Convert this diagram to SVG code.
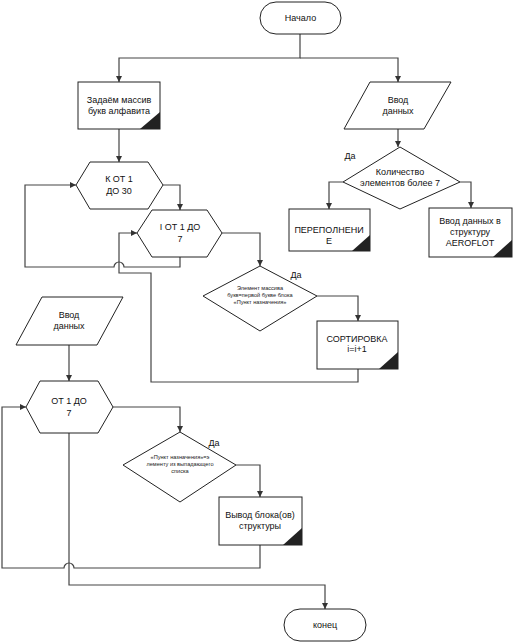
<svg xmlns="http://www.w3.org/2000/svg" width="514" height="644" viewBox="0 0 514 644">
<defs>
<marker id="ar" viewBox="0 0 10 10" refX="10" refY="5" markerWidth="6" markerHeight="6" orient="auto" markerUnits="userSpaceOnUse">
<path d="M0,0 L10,5 L0,10 z" fill="#333"/>
</marker>
<style>
.s{fill:#fff;stroke:#222;stroke-width:1}
.c{fill:none;stroke:#444;stroke-width:1.2}
.t{font-family:"Liberation Sans",Arial,sans-serif;font-size:9px;fill:#111;text-anchor:middle}
.sm{font-family:"Liberation Sans",Arial,sans-serif;font-size:5.6px;fill:#222;text-anchor:middle}
.tri{fill:#222}
</style>
</defs>
<rect width="514" height="644" fill="#fff"/>

<g id="connectors">
<path class="c" d="M300,34 V58 H119 V82" marker-end="url(#ar)"/>
<path class="c" d="M300,58 H398 V82" marker-end="url(#ar)"/>
<path class="c" d="M119,129 V162" marker-end="url(#ar)"/>
<path class="c" d="M398,129 V147" marker-end="url(#ar)"/>
<path class="c" d="M343,182 H329 V209" marker-end="url(#ar)"/>
<path class="c" d="M460,182 H471 V208" marker-end="url(#ar)"/>
<path class="c" d="M163,185 H180 V210" marker-end="url(#ar)"/>
<path class="c" d="M222,233 H260 V266" marker-end="url(#ar)"/>
<path class="c" d="M180,257 V267 H124 A5,5 0 0 0 114,267 H25 V185 H76" marker-end="url(#ar)"/>
<path class="c" d="M317,296 H358 V321" marker-end="url(#ar)"/>
<path class="c" d="M358,369 V382 H151 V273 H119 V233 H137" marker-end="url(#ar)"/>
<path class="c" d="M69,345 V381" marker-end="url(#ar)"/>
<path class="c" d="M113,407 H180 V432" marker-end="url(#ar)"/>
<path class="c" d="M236,465 H260 V497" marker-end="url(#ar)"/>
<path class="c" d="M260,545 V568 H74 A5,5 0 0 0 64,568 H2 V407 H26" marker-end="url(#ar)"/>
<path class="c" d="M69,433 V585 H325 V609" marker-end="url(#ar)"/>
</g>

<g id="start">
<rect class="s" x="260" y="2" width="81" height="32" rx="16"/>
<text class="t" x="300.5" y="21">Начало</text>
</g>

<g id="alphabet">
<rect class="s" x="78" y="82" width="82" height="47"/>
<path class="tri" d="M140,129 L160,129 L160,112 z"/>
<text class="t" x="119" y="103">Задаём массив</text>
<text class="t" x="119" y="114">букв алфавита</text>
</g>

<g id="input1">
<path class="s" d="M370,82 H451 L424,129 H344 z"/>
<text class="t" x="398" y="103">Ввод</text>
<text class="t" x="398" y="114">данных</text>
</g>

<g id="count">
<path class="s" d="M400,147 L460,182 L400,209 L343,182 z"/>
<text class="t" x="400" y="175">Количество</text>
<text class="t" x="400" y="186">элементов более 7</text>
<text class="t" x="350" y="159" style="text-anchor:middle">Да</text>
</g>

<g id="overflow">
<rect class="s" x="289" y="209" width="81" height="42"/>
<path class="tri" d="M352,251 L370,251 L370,235 z"/>
<text class="t" x="329" y="233">ПЕРЕПОЛНЕНИ</text>
<text class="t" x="329" y="244">Е</text>
</g>

<g id="aeroflot">
<rect class="s" x="429" y="208" width="83" height="49"/>
<path class="tri" d="M493,257 L512,257 L512,240 z"/>
<text class="t" x="470" y="224">Ввод данных в</text>
<text class="t" x="470" y="235">структуру</text>
<text class="t" x="470" y="246">AEROFLOT</text>
</g>

<g id="loopK">
<path class="s" d="M90,162 H148 L163,185 L148,209 H90 L76,185 z"/>
<text class="t" x="119" y="182">К ОТ 1</text>
<text class="t" x="119" y="194">ДО 30</text>
</g>

<g id="loopI">
<path class="s" d="M152,210 H207 L222,233 L207,257 H152 L137,233 z"/>
<text class="t" x="180" y="230">I ОТ 1 ДО</text>
<text class="t" x="180" y="242">7</text>
</g>

<g id="check1">
<path class="s" d="M260,266 L317,296 L260,331 L203,296 z"/>
<text class="sm" x="260" y="290">Элемент массива</text>
<text class="sm" x="260" y="297">букв=первой букве блока</text>
<text class="sm" x="260" y="304">«Пункт назначения»</text>
<text class="t" x="296" y="278">Да</text>
</g>

<g id="sort">
<rect class="s" x="317" y="321" width="81" height="48"/>
<path class="tri" d="M379,369 L398,369 L398,352 z"/>
<text class="t" x="357" y="342">СОРТИРОВКА</text>
<text class="t" x="357" y="352">i=i+1</text>
</g>

<g id="input2">
<path class="s" d="M42,297 H123 L97,345 H16 z"/>
<text class="t" x="69" y="318">Ввод</text>
<text class="t" x="69" y="329">данных</text>
</g>

<g id="loop3">
<path class="s" d="M40,381 H98 L113,407 L98,433 H40 L26,407 z"/>
<text class="t" x="69" y="404">ОТ 1 ДО</text>
<text class="t" x="69" y="416">7</text>
</g>

<g id="check2">
<path class="s" d="M180,432 L236,465 L180,502 L123,465 z"/>
<text class="sm" x="180" y="459">«Пункт назначения»=э</text>
<text class="sm" x="180" y="466">лементу из выпадающего</text>
<text class="sm" x="180" y="473">списка</text>
<text class="t" x="214" y="446">Да</text>
</g>

<g id="output">
<rect class="s" x="219" y="497" width="83" height="48"/>
<path class="tri" d="M283,545 L302,545 L302,528 z"/>
<text class="t" x="260" y="518">Вывод блока(ов)</text>
<text class="t" x="260" y="529">структуры</text>
</g>

<g id="end">
<rect class="s" x="284" y="609" width="82" height="32" rx="16"/>
<text class="t" x="325" y="628">конец</text>
</g>
</svg>
